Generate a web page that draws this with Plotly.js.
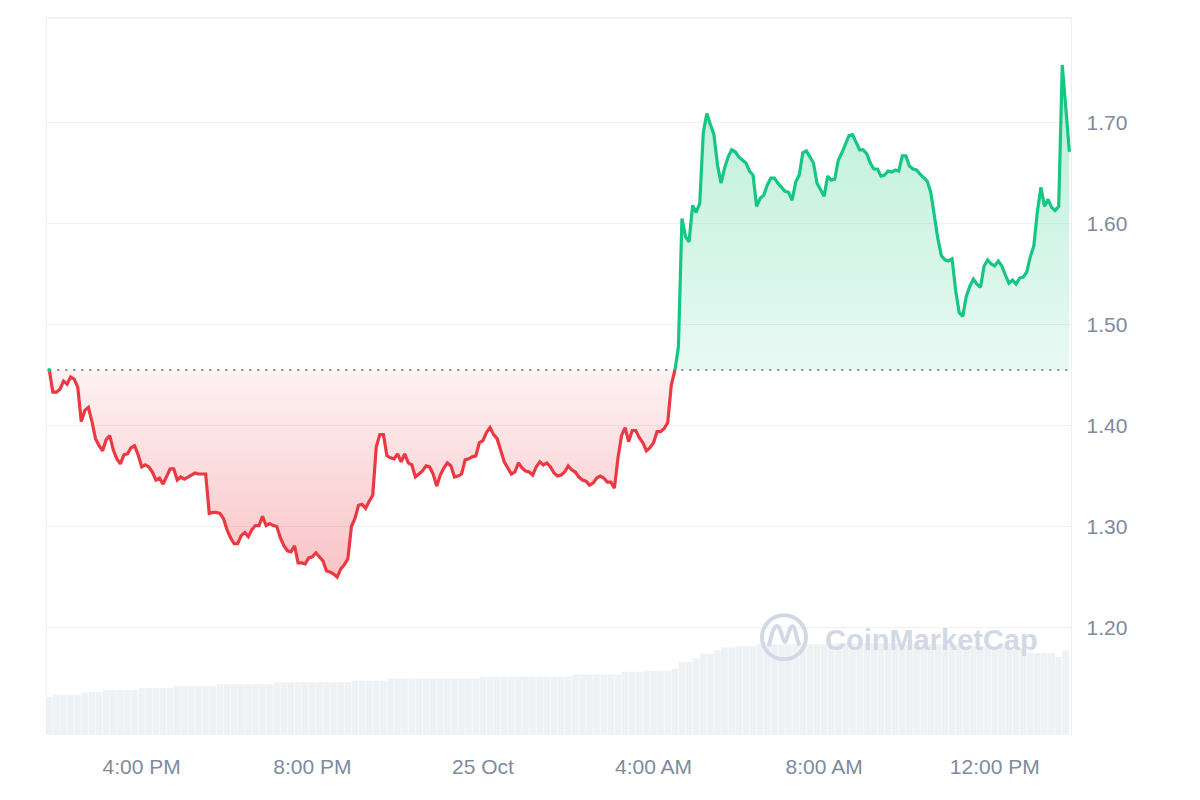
<!DOCTYPE html>
<html>
<head>
<meta charset="utf-8">
<script src="https://cdn.plot.ly/plotly-3.0.1.min.js"></script>
<style>
  html, body { margin: 0; padding: 0; background: #ffffff; }
  #chart { width: 1200px; height: 800px; }
</style>
</head>
<body>
<div id="chart"></div>
<script>
// ---------------- DATA ----------------
// Price samples every 5 minutes, starting 24 Oct 13:50
const priceStart = "2024-10-24 13:50:00";
const priceStepMinutes = 5;
const prices = [
  1.455, 1.433, 1.433, 1.436, 1.444, 1.441, 1.448, 1.446, 1.438, 1.404,
  1.415, 1.418, 1.404, 1.387, 1.380, 1.375, 1.386, 1.390, 1.376, 1.367,
  1.362, 1.371, 1.372, 1.378, 1.380, 1.371, 1.359, 1.361, 1.359, 1.354,
  1.346, 1.348, 1.342, 1.350, 1.357, 1.357, 1.346, 1.349, 1.347, 1.349,
  1.351, 1.353, 1.352, 1.352, 1.352, 1.313, 1.314, 1.314, 1.313, 1.308,
  1.297, 1.289, 1.283, 1.283, 1.291, 1.294, 1.290, 1.297, 1.301, 1.301,
  1.310, 1.301, 1.303, 1.301, 1.300, 1.289, 1.281, 1.276, 1.275, 1.281,
  1.264, 1.264, 1.263, 1.269, 1.270, 1.274, 1.270, 1.266, 1.256, 1.255,
  1.253, 1.250, 1.258, 1.262, 1.268, 1.300, 1.308, 1.321, 1.322, 1.318,
  1.325, 1.331, 1.379, 1.391, 1.391, 1.370, 1.368, 1.367, 1.372, 1.364,
  1.372, 1.363, 1.361, 1.349, 1.352, 1.355, 1.360, 1.359, 1.352, 1.340,
  1.351, 1.358, 1.363, 1.360, 1.349, 1.350, 1.352, 1.366, 1.367, 1.369,
  1.370, 1.383, 1.385, 1.393, 1.398, 1.391, 1.387, 1.375, 1.364, 1.358,
  1.352, 1.354, 1.363, 1.358, 1.355, 1.354, 1.351, 1.359, 1.364, 1.361,
  1.363, 1.359, 1.353, 1.350, 1.351, 1.354, 1.360, 1.356, 1.354, 1.349,
  1.346, 1.345, 1.341, 1.343, 1.348, 1.350, 1.348, 1.344, 1.344, 1.338,
  1.368, 1.390, 1.398, 1.384, 1.395, 1.395, 1.388, 1.383, 1.375, 1.378,
  1.383, 1.394, 1.394, 1.397, 1.403, 1.440, 1.454, 1.478, 1.605, 1.587,
  1.582, 1.618, 1.611, 1.620, 1.690, 1.709, 1.698, 1.688, 1.658, 1.640,
  1.655, 1.666, 1.673, 1.671, 1.666, 1.663, 1.660, 1.652, 1.648, 1.617,
  1.625, 1.628, 1.638, 1.645, 1.645, 1.640, 1.636, 1.632, 1.631, 1.623,
  1.641, 1.648, 1.670, 1.672, 1.666, 1.660, 1.640, 1.634, 1.627, 1.647,
  1.643, 1.644, 1.663, 1.670, 1.678, 1.687, 1.688, 1.680, 1.673, 1.673,
  1.669, 1.660, 1.654, 1.654, 1.647, 1.648, 1.652, 1.651, 1.653, 1.652,
  1.667, 1.667, 1.657, 1.654, 1.653, 1.649, 1.645, 1.642, 1.631, 1.606,
  1.585, 1.568, 1.564, 1.563, 1.565, 1.534, 1.512, 1.508, 1.528, 1.538,
  1.545, 1.540, 1.537, 1.558, 1.564, 1.560, 1.558, 1.563, 1.558, 1.549,
  1.541, 1.544, 1.540, 1.546, 1.547, 1.552, 1.567, 1.578, 1.612, 1.636,
  1.617, 1.624, 1.616, 1.613, 1.617, 1.757, 1.717, 1.671
];

// Volume (millions USD), one bar every 10 minutes, starting 24 Oct 13:50
const volumeStart = "2024-10-24 13:50:00";
const volumeStepMinutes = 10;
const volumes = [
  26.5, 28.1, 28.1, 28.1, 28.1, 30.0, 30.0, 30.0, 31.4, 31.4,
  31.4, 31.4, 31.4, 32.8, 32.8, 32.8, 32.8, 32.8, 34.2, 34.2,
  34.2, 34.2, 34.2, 34.2, 35.5, 35.5, 35.5, 35.5, 35.5, 35.5,
  35.5, 35.5, 36.9, 36.9, 36.9, 36.9, 36.9, 36.9, 36.9, 36.9,
  36.9, 36.9, 36.9, 38.1, 38.1, 38.1, 38.1, 38.1, 39.5, 39.5,
  39.5, 39.5, 39.5, 39.5, 39.5, 39.5, 39.5, 39.5, 39.5, 39.5,
  39.5, 40.9, 40.9, 40.9, 40.9, 40.9, 40.9, 40.9, 40.9, 40.9,
  40.9, 40.9, 40.9, 40.9, 42.3, 42.3, 42.3, 42.3, 42.3, 42.3,
  42.3, 44.1, 44.1, 44.1, 44.8, 44.8, 44.8, 44.8, 46.5, 51.1,
  51.1, 53.5, 56.9, 56.9, 59.2, 61.1, 61.1, 62.0, 62.0, 62.0,
  63.4, 63.4, 63.4, 63.4, 63.4, 63.4, 63.4, 63.4, 63.4, 63.4,
  63.4, 64.1, 64.1, 64.1, 64.1, 64.1, 64.1, 64.1, 64.1, 64.1,
  63.4, 63.4, 63.4, 63.4, 63.4, 63.4, 63.4, 63.4, 63.4, 62.0,
  62.0, 62.0, 62.0, 62.0, 62.0, 60.6, 60.6, 60.6, 57.2, 57.2,
  57.2, 57.2, 54.6, 59.2
];

const xTickTimes  = ["2024-10-24 16:00", "2024-10-24 20:00", "2024-10-25 00:00",
                     "2024-10-25 04:00", "2024-10-25 08:00", "2024-10-25 12:00"];
const xTickLabels = ["4:00 PM", "8:00 PM", "25 Oct", "4:00 AM", "8:00 AM", "12:00 PM"];
const yTickValues = [1.20, 1.30, 1.40, 1.50, 1.60, 1.70];
const yTickLabels = ["1.20", "1.30", "1.40", "1.50", "1.60", "1.70"];

// ---------------- BUILD ----------------
const RED = "#ea3943", GREEN = "#16c784";
const FONT = "'Liberation Sans', Arial, Helvetica, sans-serif";
const LABEL = "#808a9d";

function toMs(s) { return Date.parse(s.replace(" ", "T") + "Z"); }
function fmt(ms) { return new Date(ms).toISOString().slice(0, 19).replace("T", " "); }

const t0 = toMs(priceStart);
const priceTimes = prices.map((_, i) => t0 + i * priceStepMinutes * 60000);
const base = prices[0];

// insert baseline crossings so the red / green parts meet exactly at the baseline
const dt = [], dv = [];
for (let i = 0; i < prices.length; i++) {
  if (i > 0) {
    const a = prices[i - 1], b = prices[i];
    if ((a - base) * (b - base) < 0) {
      const f = (base - a) / (b - a);
      dt.push(priceTimes[i - 1] + f * (priceTimes[i] - priceTimes[i - 1]));
      dv.push(base);
    }
  }
  dt.push(priceTimes[i]); dv.push(prices[i]);
}
const X = dt.map(fmt);
const baseY  = dv.map(() => base);
const lowY   = dv.map(v => Math.min(v, base));
const highY  = dv.map(v => Math.max(v, base));
const redY   = dv.map(v => (v <= base ? v : null));
const greenY = dv.map(v => (v >= base ? v : null));
const minP = Math.min(...prices), maxP = Math.max(...prices);

const v0 = toMs(volumeStart);
const volTimes = volumes.map((_, i) => fmt(v0 + i * volumeStepMinutes * 60000));

const traces = [
  { x: X, y: baseY, type: "scatter", mode: "lines", line: { width: 0 }, hoverinfo: "skip", showlegend: false },
  { x: X, y: lowY, type: "scatter", mode: "lines", line: { width: 0 }, fill: "tonexty",
    fillgradient: { type: "vertical", start: minP, stop: base,
      colorscale: [[0, "rgba(234,57,67,0.30)"], [1, "rgba(234,57,67,0.07)"]] },
    hoverinfo: "skip", showlegend: false },
  { x: X, y: baseY, type: "scatter", mode: "lines", line: { width: 0 }, hoverinfo: "skip", showlegend: false },
  { x: X, y: highY, type: "scatter", mode: "lines", line: { width: 0 }, fill: "tonexty",
    fillgradient: { type: "vertical", start: base, stop: maxP,
      colorscale: [[0, "rgba(22,199,132,0.10)"], [1, "rgba(22,199,132,0.30)"]] },
    hoverinfo: "skip", showlegend: false },
  { x: [X[0], X[X.length - 1]], y: [base, base], type: "scatter", mode: "lines",
    line: { color: "#858a93", width: 2, dash: "2px,6px" }, hoverinfo: "skip", showlegend: false },
  { x: X, y: redY, type: "scatter", mode: "lines", line: { color: RED, width: 3.2 },
    connectgaps: false, hoverinfo: "skip", showlegend: false },
  { x: X, y: greenY, type: "scatter", mode: "lines", line: { color: GREEN, width: 3.2 },
    connectgaps: false, hoverinfo: "skip", showlegend: false },
  { x: [X[0]], y: [base], type: "scatter", mode: "markers",
    marker: { color: GREEN, size: 4 }, hoverinfo: "skip", showlegend: false },
  { x: volTimes, y: volumes, type: "bar", yaxis: "y2",
    marker: { color: "#eff2f5", line: { width: 0.6, color: "rgba(255,255,255,0.55)" } },
    width: volumeStepMinutes * 60000, hoverinfo: "skip", showlegend: false }
];

const frame = "#eceef1";
const layout = {
  width: 1200, height: 800,
  margin: { l: 47, r: 129, t: 18, b: 65 },
  paper_bgcolor: "#ffffff", plot_bgcolor: "#ffffff",
  showlegend: false,
  bargap: 0,
  xaxis: {
    type: "date",
    range: ["2024-10-24 13:46:46", "2024-10-25 13:47:18"],
    tickmode: "array", tickvals: xTickTimes, ticktext: xTickLabels,
    showgrid: false, zeroline: false, showline: false, ticks: "",
    ticklabelstandoff: 17,
    tickfont: { family: FONT, size: 21, color: LABEL },
    fixedrange: true
  },
  yaxis: {
    side: "right",
    range: [1.0936, 1.8035],
    tickmode: "array", tickvals: yTickValues, ticktext: yTickLabels,
    showgrid: true, gridcolor: "#eff1f3", gridwidth: 1.3,
    zeroline: false, showline: true, mirror: true, linecolor: frame, linewidth: 1.3,
    ticks: "", ticklabelstandoff: 10,
    tickfont: { family: FONT, size: 21, color: LABEL },
    fixedrange: true
  },
  yaxis2: {
    overlaying: "y", range: [0, 500], visible: false, fixedrange: true
  },
  shapes: [
    { type: "line", xref: "paper", yref: "paper", x0: 0, x1: 1, y0: 1, y1: 1,
      line: { color: frame, width: 1.3 } },
    // CoinMarketCap watermark logo
    { type: "circle", xref: "paper", yref: "paper", xsizemode: "pixel", ysizemode: "pixel",
      xanchor: 0.7197, yanchor: 0.1363, x0: -22, x1: 22, y0: -22, y1: 22,
      line: { color: "#d3d9e4", width: 4 }, layer: "above" },
    { type: "path", xref: "paper", yref: "paper", xsizemode: "pixel", ysizemode: "pixel",
      xanchor: 0.7197, yanchor: 0.1363,
      path: "M -15,-9 C -12,6 -9,13 -6,11 C -3,9 -1,-5 1,-5 C 3,-5 5,12 9,11 C 12,10 12,-4 16,-8",
      line: { color: "#d3d9e4", width: 4 }, layer: "above" }
  ],
  annotations: [
    { text: "<b>CoinMarketCap</b>", xref: "paper", yref: "paper",
      x: 0.8638, y: 0.1325, xanchor: "center", yanchor: "middle", showarrow: false,
      font: { family: FONT, size: 29, color: "#d3d9e4" } }
  ]
};

Plotly.newPlot("chart", traces, layout, { staticPlot: true, displayModeBar: false });
</script>
</body>
</html>
